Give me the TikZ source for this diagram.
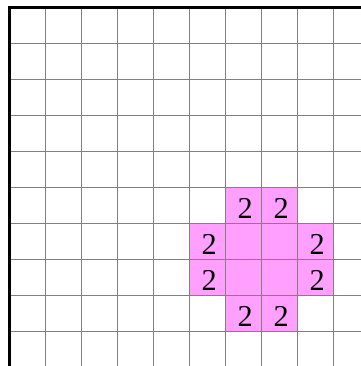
\documentclass[tikz,border=0pt]{standalone}
\usepackage{fontspec}
\setmainfont{Liberation Serif}
\definecolor{cellpink}{RGB}{255,160,255}
\definecolor{gridgray}{RGB}{128,128,128}
\begin{document}
\begin{tikzpicture}[x=1cm,y=1cm,
  gridline/.style={draw=gridgray,line width=1.45pt},
  borderline/.style={draw=black,line width=2.5pt},
  pinkcell/.style={fill=cellpink},
  num/.style={font=\fontsize{24}{24}\selectfont,inner sep=0pt}]
\useasboundingbox (-0.2639,0.2083) rectangle (9.7639,-9.9583);
% pink cells (col, row from top)
\foreach \c/\r in {6/5,7/5,5/6,6/6,7/6,8/6,5/7,6/7,7/7,8/7,6/8,7/8}
  \fill[pinkcell] (\c,-\r) rectangle (\c+1,-\r-1);
% grid
\foreach \i in {1,...,9}
  \draw[gridline] (\i,0) -- (\i,-9.96);
\foreach \j in {1,...,9}
  \draw[gridline] (0,-\j) -- (9.77,-\j);
% border
\draw[borderline] (0,-9.96) -- (0,0) -- (9.77,0);
% numbers
\foreach \c/\r/\n in {6/5/a,7/5/b,5/6/c,8/6/d,5/7/e,8/7/f,6/8/g,7/8/h}
  \node[num] (n\n) at (\c+0.55,-\r-0.58) {2};
\end{tikzpicture}
\end{document}
